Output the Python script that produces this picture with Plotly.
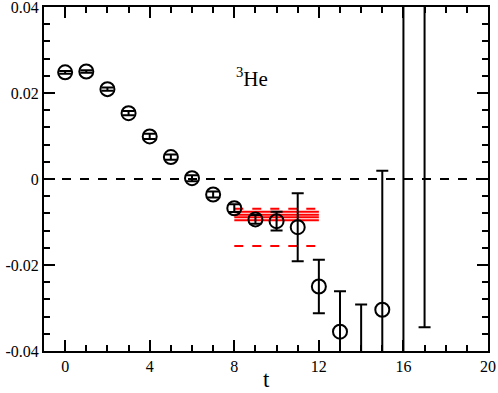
import plotly.graph_objects as go

# effective mass-like correlator data for 3He
t = [0, 1, 2, 3, 4, 5, 6, 7, 8, 9, 10, 11, 12, 13, 14, 15, 16, 17]
val = [0.0248, 0.0250, 0.0209, 0.0153, 0.0099, 0.0051, 0.0002, -0.0036,
       -0.0068, -0.0094, -0.0098, -0.0112, -0.0250, -0.0355, -0.0500,
       -0.0304, -0.0500, 0.0600]
err = [0.0003, 0.0003, 0.0004, 0.0005, 0.0006, 0.0006, 0.0007, 0.0007,
       0.0009, 0.0010, 0.0022, 0.0079, 0.0062, 0.0094, 0.0208,
       0.0323, 0.1200, 0.0945]

# fit band (plateau t = 8..12)
fit_t = [8, 12]
fit_solid = [-0.0076, -0.0083, -0.0089, -0.0096]
fit_dashed = [-0.0069, -0.0156]

xticks = [0, 4, 8, 12, 16, 20]
yticks = [-0.04, -0.02, 0, 0.02, 0.04]
yticklabels = ["-0.04", "-0.02", "0", "0.02", "0.04"]

SERIF = "Liberation Serif"

fig = go.Figure()

# zero line
fig.add_trace(go.Scatter(x=[-1, 20], y=[0, 0], mode="lines",
                         line=dict(color="black", width=2, dash="dash"),
                         showlegend=False, hoverinfo="skip"))

for v in fit_solid:
    fig.add_trace(go.Scatter(x=fit_t, y=[v, v], mode="lines",
                             line=dict(color="#ff0000", width=2),
                             showlegend=False))
for v in fit_dashed:
    fig.add_trace(go.Scatter(x=fit_t, y=[v, v], mode="lines",
                             line=dict(color="#ff0000", width=2, dash="dash"),
                             showlegend=False))

fig.add_trace(go.Scatter(
    x=t, y=val, mode="markers",
    marker=dict(symbol="circle-open", size=14, color="black",
                line=dict(width=2, color="black")),
    error_y=dict(type="data", array=err, visible=True, color="black",
                 thickness=2, width=6),
    showlegend=False, cliponaxis=True))

fig.add_annotation(x=8, y=0.0236, xref="x", yref="y", xanchor="left",
                   text="<sup>3</sup>He", showarrow=False,
                   font=dict(family=SERIF, size=21, color="black"))

# x-axis title placed by hand
fig.add_annotation(x=0.5, y=0, xref="paper", yref="paper", xanchor="center",
                   yanchor="top", yshift=-14, text="t", showarrow=False,
                   font=dict(family=SERIF, size=23, color="black"))

axis_common = dict(showline=True, linecolor="black", linewidth=2, mirror="allticks",
                   ticks="inside", ticklen=11, tickwidth=2, tickcolor="black",
                   showgrid=False, zeroline=False, automargin=False,
                   ticklabeloverflow="allow",
                   tickfont=dict(family=SERIF, size=16, color="black"))

fig.update_xaxes(range=[-1, 20], tickvals=xticks,
                 minor=dict(dtick=1, tick0=0, ticks="inside", ticklen=6,
                            tickwidth=2, tickcolor="black", showgrid=False),
                 **axis_common)
fig.update_yaxes(range=[-0.04, 0.04], tickvals=yticks, ticktext=yticklabels,
                 minor=dict(dtick=0.004, tick0=0, ticks="inside", ticklen=6,
                            tickwidth=2, tickcolor="black", showgrid=False),
                 **axis_common)

fig.update_layout(width=498, height=393, plot_bgcolor="white", paper_bgcolor="white",
                  font=dict(family=SERIF),
                  margin=dict(l=44, r=10, t=7, b=42))

fig.write_html("out.html", config={"displayModeBar": False},
               post_script="document.body.style.margin='0';")
